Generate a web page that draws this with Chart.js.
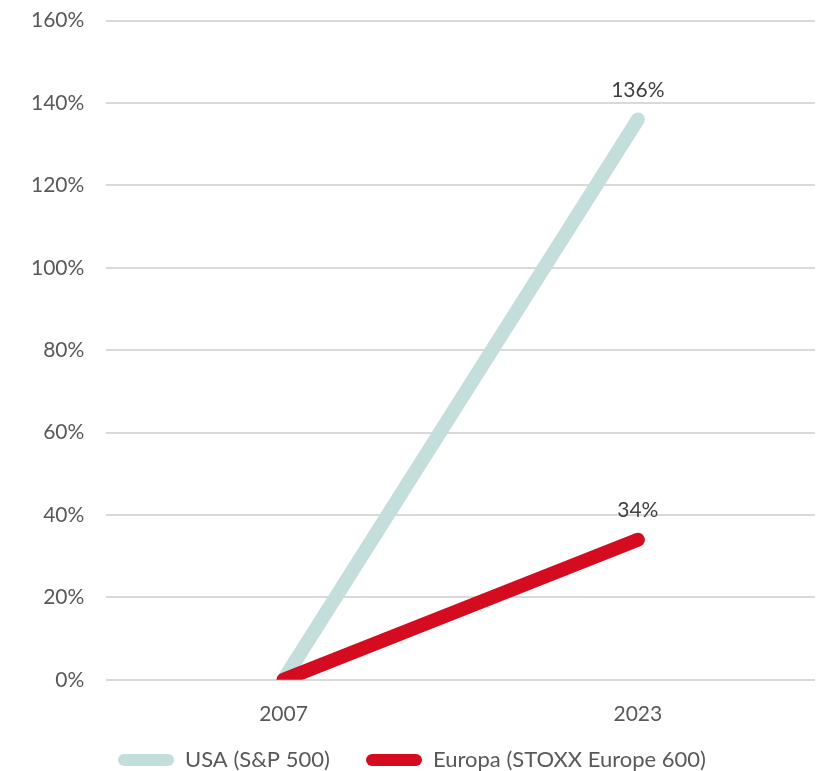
<!DOCTYPE html>
<html>
<head>
<meta charset="utf-8">
<script src="https://cdn.jsdelivr.net/npm/chart.js@4/dist/chart.umd.min.js"></script>
<style>
  html, body { margin: 0; padding: 0; background: #fff; overflow: hidden; height: 771px; }
  #wrap { width: 826px; height: 795px; margin-top: -14px; }
</style>
</head>
<body>
<div id="wrap"><canvas id="myChart"></canvas></div>
<script>
var years = ["2007", "2023"];
var usaValues = [0, 136];
var europeValues = [0, 34];
var seriesNames = ["USA (S&P 500)", "Europa (STOXX Europe 600)"];
var seriesColors = ["#c4dedb", "#d50b20"];

// draws the value label above the last point of each line
var endLabels = {
    id: "endLabels",
    afterDatasetsDraw: function (chart) {
        var ctx = chart.ctx;
        ctx.save();
        ctx.font = "21px Lato";
        ctx.fillStyle = "#404040";
        ctx.textAlign = "center";
        ctx.textBaseline = "bottom";
        chart.data.datasets.forEach(function (ds, i) {
            var meta = chart.getDatasetMeta(i);
            var last = meta.data[meta.data.length - 1];
            ctx.fillText(ds.data[ds.data.length - 1] + "%", last.x, last.y - 19);
        });
        ctx.restore();
    }
};

new Chart("myChart", {
    type: "line",
    data: {
        labels: years,
        datasets: [{
            label: seriesNames[0],
            data: usaValues,
            borderColor: seriesColors[0],
            backgroundColor: seriesColors[0],
            borderWidth: 14,
            borderCapStyle: "round",
            pointRadius: 0,
            clip: 0,
            order: 1
        }, {
            label: seriesNames[1],
            data: europeValues,
            borderColor: seriesColors[1],
            backgroundColor: seriesColors[1],
            borderWidth: 14,
            borderCapStyle: "round",
            pointRadius: 0,
            clip: 0,
            order: 0
        }]
    },
    options: {
        responsive: true,
        maintainAspectRatio: false,
        animation: false,
        layout: { padding: { top: 0, right: 11, left: 9, bottom: 0 } },
        scales: {
            x: {
                offset: true,
                grid: { display: false },
                border: { display: false },
                ticks: { color: "#595959", font: { family: "Lato", size: 21 }, padding: 14 }
            },
            y: {
                min: 0,
                max: 160,
                ticks: {
                    stepSize: 20,
                    color: "#595959",
                    font: { family: "Lato", size: 21 },
                    padding: 22,
                    callback: function (v) { return v + "%"; }
                },
                grid: { color: "#d9d9d9", lineWidth: 2, drawTicks: false },
                border: { display: false }
            }
        },
        plugins: {
            legend: {
                position: "bottom",
                labels: {
                    color: "#595959",
                    font: { family: "Lato", size: 22 },
                    boxWidth: 56,
                    boxHeight: 12,
                    padding: 8,
                    sort: function (a, b) { return a.datasetIndex - b.datasetIndex; },
                    generateLabels: function (chart) {
                        var items = Chart.defaults.plugins.legend.labels.generateLabels(chart);
                        items.forEach(function (it) {
                            it.lineWidth = 0;
                            it.borderRadius = 6;
                            // extra room after the first entry, as in the original legend
                            if (it.datasetIndex === 0) it.text += "\u00a0\u00a0\u00a0\u00a0\u00a0";
                        });
                        return items;
                    }
                }
            },
            tooltip: { enabled: false }
        }
    },
    plugins: [endLabels]
});
</script>
</body>
</html>
